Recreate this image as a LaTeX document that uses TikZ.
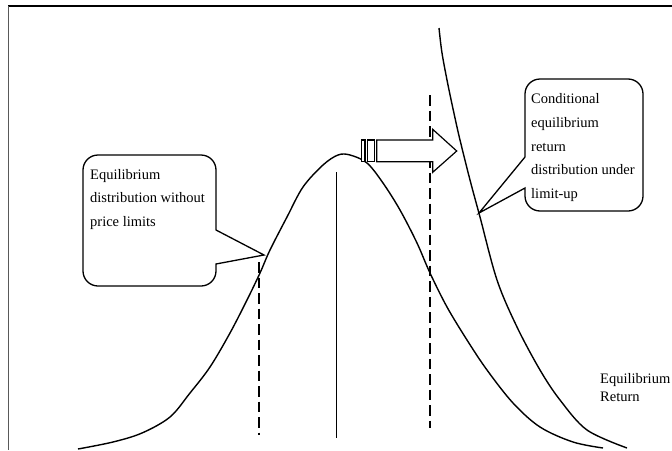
\documentclass[tikz,border=0pt]{standalone}
\usepackage{fontspec}
\setmainfont{Liberation Serif}
\begin{document}
\begin{tikzpicture}[x=1pt,y=-1pt,
  curve/.style={line width=1.4pt,black},
  dashln/.style={line width=1.2pt,dash pattern=on 10.5pt off 5pt},
  callout/.style={line width=1.3pt,fill=white},
  lbl/.style={font=\fontsize{14.5}{23.7}\selectfont,anchor=base west,inner sep=0pt,align=left},
  blk/.style={line width=1.2pt,fill=white}]
\useasboundingbox (0,0) rectangle (672,450);
% frame
\draw[line width=1.5pt] (8,6) -- (672,6);
\draw[line width=1.4pt,gray!70!black] (8.5,6) -- (8.5,450);
% vertical lines
\draw[line width=1.3pt] (336.5,172) -- (336.5,438);
\draw[dashln] (259,262) -- (259,435);
\draw[dashln] (430,95) -- (430,428);
% bell curve
\draw[curve] plot[smooth,tension=0.55] coordinates {
 (78,449) (113,442) (142,433) (170,417) (190,393) (210,367) (230,333) (247,300)
 (260,273) (270,250) (287,217) (303,187) (323,165) (338,155) (350,155) (367,163)
 (383,183) (400,210) (417,243) (430,273) (447,307) (467,340) (487,370) (513,403)
 (540,427) (573,442) (603,448)};
% conditional curve
\draw[curve] plot[smooth,tension=0.55] coordinates {
 (439,28) (442,53) (448,85) (455,118) (460,140) (470,180) (480,217) (497,280)
 (517,327) (540,370) (560,400) (587,430) (627,448)};
% striped block arrow
\draw[blk] (361.7,140) rectangle (365,161.7);
\draw[blk] (367.3,140) rectangle (374.3,161.7);
\draw[blk] (376.7,140) -- (432.7,140) -- (432.7,129.3) -- (456.7,151) -- (432.7,172.3)
  -- (432.7,161.7) -- (376.7,161.7) -- cycle;
% left callout
\draw[callout] (98,155) -- (201,155) arc[start angle=-90,end angle=0,radius=15]
  -- (216,230) -- (264,255) -- (216,264) -- (216,271) arc[start angle=0,end angle=90,radius=15]
  -- (98,286) arc[start angle=90,end angle=180,radius=15]
  -- (83,170) arc[start angle=180,end angle=270,radius=15] -- cycle;
\node[lbl] (lefttext) at (90,226.4) {Equilibrium\\distribution without\\price limits};
% right callout
\draw[callout] (540,79) -- (628,79) arc[start angle=-90,end angle=0,radius=15]
  -- (643,196) arc[start angle=0,end angle=90,radius=15]
  -- (540,211) arc[start angle=90,end angle=180,radius=15]
  -- (525,188) -- (479,213) -- (525,157) -- (525,94) arc[start angle=180,end angle=270,radius=15] -- cycle;
\node[lbl] (righttext) at (531,198.5) {Conditional\\equilibrium\\return\\distribution under\\limit-up};
% axis label
\node[lbl,font=\fontsize{14.5}{18.4}\selectfont] (axislabel) at (600,401.7) {Equilibrium\\Return};
\end{tikzpicture}
\end{document}
